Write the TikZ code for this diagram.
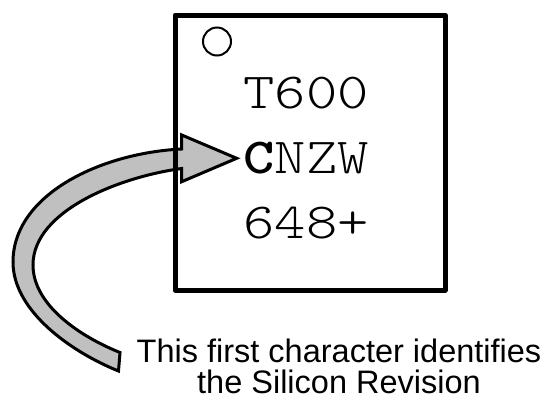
\documentclass[tikz,border=0pt]{standalone}
\usepackage{fontspec}
\setmainfont{Liberation Sans}
\newfontfamily\chipfont[FakeStretch=1.18]{Latin Modern Mono Light}
\definecolor{arrowgray}{RGB}{192,192,192}
\begin{document}
\begin{tikzpicture}[x=1pt,y=-1pt,
  chipline/.style={line width=5pt,line join=round},
  chiptext/.style={inner sep=0pt,anchor=base,font=\chipfont\fontsize{50.5}{58}\selectfont},
  notetext/.style={inner sep=0pt,anchor=base,font=\fontsize{32.5}{38}\selectfont},
  bigarrow/.style={fill=arrowgray,draw=black,line width=3pt,line join=miter}]
\useasboundingbox (0,0) rectangle (547,408);
% curved arrow
\draw[bigarrow] (120,352.5) -- (118.5,371)
  .. controls (73.5,353) and (13,312) .. (13,262)
  .. controls (13,195) and (100,153) .. (181.7,149)
  -- (181.7,135) -- (236.7,158.3) -- (181.7,181.7) -- (181.7,168.5)
  .. controls (121.7,176.5) and (33,210) .. (33,265)
  .. controls (33,305) and (80,336.5) .. (120,352.5) -- cycle;
% chip
\node[draw,chipline,minimum width=270pt,minimum height=275pt,inner sep=0pt] (chip) at (310,152.5) {};
\node[draw,circle,line width=2pt,minimum size=28pt,inner sep=0pt] (dot) at (217,41.5) {};
\node[chiptext] (l1) at (306,108.3) {T600};
\node[chiptext] (l2) at (306,173) {{\bfseries C}NZW};
\node[chiptext] (l3) at (306,238) {648+};
% note
\node[notetext] (n1) at (339,362) {This first character identifies};
\node[notetext] (n2) at (339,393.5) {the Silicon Revision};
\end{tikzpicture}
\end{document}
